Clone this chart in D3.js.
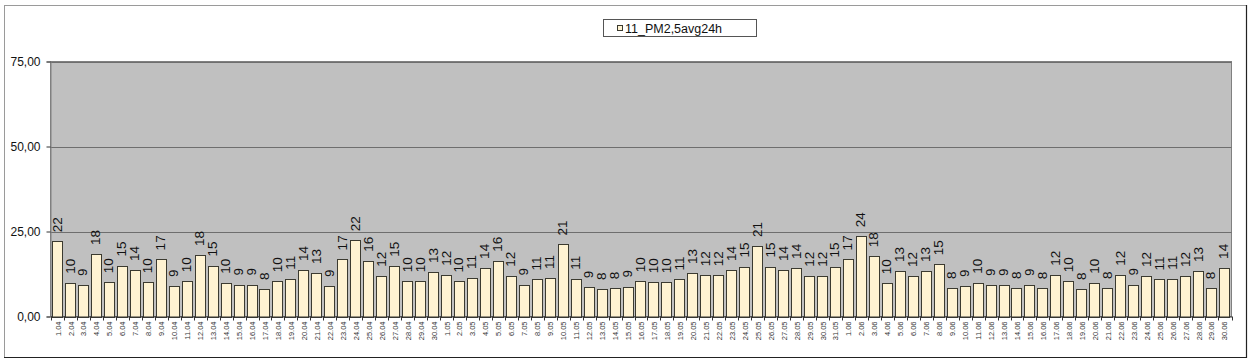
<!DOCTYPE html>
<html>
<head>
<meta charset="utf-8">
<script src="https://cdn.jsdelivr.net/npm/d3@7"></script>
<style>
html,body{margin:0;padding:0;background:#fff;}
svg{display:block;font-family:Arial,"Liberation Sans",sans-serif;}
</style>
</head>
<body>
<svg id="chart" width="1252" height="364"></svg>
<script>
const seriesName = "11_PM2,5avg24h";
const categories = [
  "1.04","2.04","3.04","4.04","5.04","6.04","7.04","8.04","9.04","10.04",
  "11.04","12.04","13.04","14.04","15.04","16.04","17.04","18.04","19.04","20.04",
  "21.04","22.04","23.04","24.04","25.04","26.04","27.04","28.04","29.04","30.04",
  "1.05","2.05","3.05","4.05","5.05","6.05","7.05","8.05","9.05","10.05",
  "11.05","12.05","13.05","14.05","15.05","16.05","17.05","18.05","19.05","20.05",
  "21.05","22.05","23.05","24.05","25.05","26.05","27.05","28.05","29.05","30.05","31.05",
  "1.06","2.06","3.06","4.06","5.06","6.06","7.06","8.06","9.06","10.06",
  "11.06","12.06","13.06","14.06","15.06","16.06","17.06","18.06","19.06","20.06",
  "21.06","22.06","23.06","24.06","25.06","26.06","27.06","28.06","29.06","30.06"
];
const values = [
  22.1, 9.9, 9.3, 18.4, 10.1, 15.0, 13.7, 10.1, 16.8, 9.0,
  10.4, 18.1, 15.0, 9.9, 9.4, 9.4, 8.1, 10.4, 11.1, 13.7,
  12.8, 9.0, 16.8, 22.4, 16.4, 12.0, 14.9, 10.4, 10.4, 13.1,
  12.3, 10.3, 11.3, 14.3, 16.4, 12.0, 9.4, 10.9, 11.3, 21.2,
  11.1, 8.6, 8.1, 8.3, 8.8, 10.4, 10.1, 10.1, 10.9, 12.8,
  12.1, 12.1, 13.7, 14.7, 20.7, 14.7, 13.7, 14.3, 12.0, 12.0, 14.7,
  16.8, 23.6, 17.7, 9.8, 13.4, 11.9, 13.4, 15.4, 8.4, 9.0,
  9.9, 9.3, 9.3, 8.4, 9.3, 8.3, 12.3, 10.4, 8.1, 9.9,
  8.4, 12.3, 9.4, 11.9, 10.9, 11.1, 11.9, 13.4, 8.3, 14.3
];
const yTicks = [0, 25, 50, 75];
const yTickLabels = ["0,00", "25,00", "50,00", "75,00"];

const svg = d3.select("#chart");
const plot = {left: 50.5, right: 1231.5, top: 61.5, bottom: 316.5};

// outer chart border
svg.append("rect").attr("x", 4.5).attr("y", 5.5).attr("width", 1242).attr("height", 352)
  .attr("fill", "#fff").attr("stroke", "#9a9a9a").attr("stroke-width", 1);
svg.append("line").attr("x1", 1246.5).attr("x2", 1246.5).attr("y1", 5).attr("y2", 358)
  .attr("stroke", "#222").attr("stroke-width", 1.2);
svg.append("line").attr("x1", 4).attr("x2", 1247).attr("y1", 357.5).attr("y2", 357.5)
  .attr("stroke", "#222").attr("stroke-width", 1.2);

const x = d3.scaleBand().domain(categories).range([plot.left, plot.right])
  .paddingInner(0.15).paddingOuter(0.12);
const y = d3.scaleLinear().domain([0, 75]).range([plot.bottom, plot.top]);

// plot background
svg.append("rect").attr("x", plot.left).attr("y", plot.top)
  .attr("width", plot.right - plot.left).attr("height", plot.bottom - plot.top)
  .attr("fill", "#c0c0c0").attr("stroke", "#808080").attr("stroke-width", 1);

// gridlines
svg.append("g").selectAll("line").data(yTicks.filter(d => d > 0)).join("line")
  .attr("x1", plot.left).attr("x2", plot.right)
  .attr("y1", d => Math.round(y(d)) + 0.5).attr("y2", d => Math.round(y(d)) + 0.5)
  .attr("stroke", "#6e6e6e").attr("stroke-width", 1);

// y axis
const yAxis = d3.axisLeft(y).tickValues(yTicks).tickSize(4).tickPadding(6)
  .tickFormat((d, i) => yTickLabels[i]);
const gy = svg.append("g").attr("transform", `translate(${plot.left},0)`).call(yAxis);
gy.select(".domain").attr("stroke", "#808080");
gy.selectAll(".tick line").attr("stroke", "#333");
gy.selectAll(".tick text").attr("font-size", 12).attr("fill", "#111")
  .attr("font-family", "Arial, 'Liberation Sans', sans-serif");

// bars
svg.append("g").selectAll("rect").data(values).join("rect")
  .attr("x", (d, i) => Math.round(x(categories[i])) + 0.5)
  .attr("y", d => Math.round(y(d)) + 0.5)
  .attr("width", Math.round(x.bandwidth()) - 1)
  .attr("height", d => Math.round(y(0)) - Math.round(y(d)))
  .attr("fill", "#fff3d2").attr("stroke", "#3b3a30").attr("stroke-width", 1);

// value labels
svg.append("g").selectAll("text").data(values).join("text")
  .attr("transform", (d, i) => `translate(${x(categories[i]) + x.bandwidth() / 2 + 4},${y(d) - 9}) rotate(-90)`)
  .attr("text-anchor", "start").attr("font-size", 13.5).attr("fill", "#111")
  .text(d => d3.format(".0f")(d));

// x axis
const xAxis = d3.axisBottom(x).tickSize(0).tickPadding(0);
const gx = svg.append("g").attr("transform", `translate(0,${plot.bottom})`).call(xAxis);
gx.select(".domain").attr("stroke", "#333");
gx.selectAll(".tick text")
  .attr("font-size", 7.5).attr("fill", "#333")
  .attr("text-anchor", "end")
  .attr("dy", 0)
  .attr("transform", "translate(3,5) rotate(-90)")
  .attr("x", 0).attr("y", 0);
// tick marks between categories
const step = x.step();
svg.append("g").selectAll("line").data(categories.concat(["end"])).join("line")
  .attr("x1", (d, i) => Math.round(i < categories.length ? x(categories[i]) - step * x.paddingInner() / 2 : plot.right) + 0.5)
  .attr("x2", (d, i) => Math.round(i < categories.length ? x(categories[i]) - step * x.paddingInner() / 2 : plot.right) + 0.5)
  .attr("y1", plot.bottom).attr("y2", plot.bottom + 4)
  .attr("stroke", "#333").attr("stroke-width", 1);

// legend
const lg = svg.append("g");
lg.append("rect").attr("x", 603.5).attr("y", 19.5).attr("width", 153).attr("height", 17)
  .attr("fill", "#fff").attr("stroke", "#555").attr("stroke-width", 1);
lg.append("rect").attr("x", 617.5).attr("y", 25.5).attr("width", 5).attr("height", 5)
  .attr("fill", "#fff3d2").attr("stroke", "#3b3a30");
lg.append("text").attr("x", 625).attr("y", 32.5).attr("font-size", 12.5).attr("fill", "#111")
  .text(seriesName);
</script>
</body>
</html>
